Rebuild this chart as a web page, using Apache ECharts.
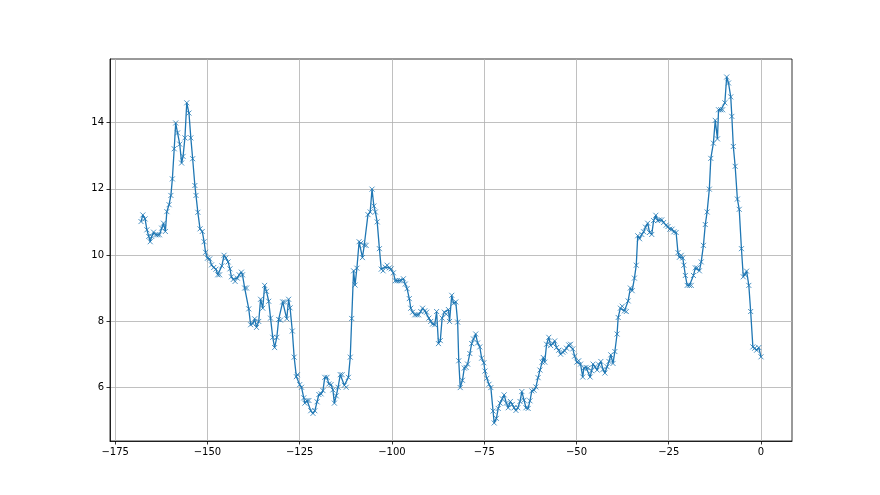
<!DOCTYPE html>
<html>
<head>
<meta charset="utf-8">
<script src="https://cdn.jsdelivr.net/npm/echarts@6/dist/echarts.min.js"></script>
<style>html,body{margin:0;padding:0;background:#fff}#c{width:880px;height:495px}</style>
</head>
<body>
<div id="c"></div>
<script>
const xValues = [
-168.0,-167.5,-166.9,-166.4,-165.9,-165.5,-165.1,-164.6,-164.0,-163.5,-163.0,-162.4,-161.9,-161.4,-161.0,-160.4,-159.9,-159.5,-159.0,-158.6,-158.1,-157.5,-157.0,-156.6,-156.1,-155.6,-155.0,-154.5,-154.0,-153.4,-153.1,-152.6,-152.0,-151.4,-150.9,-150.5,-150.0,-149.4,-148.9,-148.3,
-147.7,-147.2,-146.7,-146.1,-145.5,-145.0,-144.4,-143.9,-143.5,-143.0,-142.5,-141.9,-141.4,-140.8,-140.5,-139.9,-139.4,-138.8,-138.3,-137.7,-137.2,-136.7,-136.1,-135.6,-135.0,-134.5,-134.0,-133.4,-132.9,-132.3,-131.8,-131.2,-130.7,-130.2,-129.6,-129.1,-128.5,-128.0,
-127.6,-127.0,-126.5,-125.9,-125.6,-125.0,-124.5,-123.9,-123.6,-123.0,-122.5,-122.0,-121.4,-120.9,-120.3,-119.8,-119.2,-118.7,-118.2,-117.6,-117.1,-116.5,-116.0,-115.6,-115.1,-114.6,-114.0,-113.5,-112.9,-112.4,-111.8,-111.3,-110.9,-110.4,-110.0,-109.5,-108.9,-108.4,-108.0,-107.5,
-107.0,-106.5,-105.9,-105.4,-104.9,-104.5,-104.0,-103.4,-102.9,-102.4,-101.8,-101.3,-100.7,-100.2,-99.6,-99.1,-98.6,-98.0,-97.5,-96.9,-96.4,-95.9,-95.3,-94.9,-94.4,-93.8,-93.3,-92.8,-92.2,-91.7,-91.1,-90.6,-90.0,-89.5,-89.0,-88.4,-87.9,
-87.4,-86.9,-86.4,-85.8,-85.3,-84.7,-84.4,-83.8,-83.3,-82.7,-82.2,-81.9,-81.5,-80.9,-80.4,-79.9,-79.5,-78.9,-78.4,-77.9,-77.3,-76.8,-76.2,-75.7,-75.1,-74.8,-74.3,-73.7,-73.2,-72.6,-72.3,-71.7,-71.2,-70.7,-70.1,-69.6,-69.0,-68.5,-67.9,-67.4,
-66.9,-66.4,-65.9,-65.3,-64.8,-64.2,-63.7,-63.1,-62.6,-62.1,-61.5,-61.0,-60.4,-59.9,-59.3,-59.0,-58.6,-58.1,-57.5,-57.0,-56.4,-55.9,-55.4,-54.8,-54.3,-53.7,-53.2,-52.7,-52.1,-51.6,-51.0,-50.5,-49.9,-49.4,-48.9,-48.3,-48.0,-47.4,-46.9,-46.3,
-45.9,-45.5,-45.0,-44.4,-43.9,-43.4,-42.8,-42.3,-41.7,-41.2,-40.7,-40.1,-39.6,-39.0,-38.7,-38.1,-37.6,-37.0,-36.5,-36.0,-35.4,-34.9,-34.3,-33.8,-33.4,-32.9,-32.3,-31.8,-31.3,-30.7,-30.2,-29.6,-29.1,-28.5,-28.0,-27.5,-26.9,-26.4,
-25.7,-25.2,-24.7,-24.1,-23.6,-23.0,-22.5,-22.1,-21.6,-21.2,-20.9,-20.5,-20.0,-19.4,-18.9,-18.3,-17.8,-17.3,-16.7,-16.2,-15.6,-15.1,-14.6,-14.0,-13.6,-12.9,-12.4,-11.8,-11.5,-10.9,-10.4,-9.8,-9.3,-8.8,-8.2,-7.9,-7.5,-7.0,-6.4,-5.9,-5.3,-4.8,-4.3,-3.9,-3.3,-2.8,-2.2,-1.7,-1.2,-0.6,0
];
const yValues = [
11.01,11.21,11.09,10.76,10.56,10.40,10.56,10.69,10.61,10.61,10.61,10.81,10.96,10.71,11.31,11.52,11.80,12.30,13.21,13.99,13.69,13.35,12.78,12.98,13.54,14.60,14.29,13.54,12.91,12.10,11.80,11.29,10.79,10.71,10.40,10.08,9.90,9.88,9.70,9.62,
9.57,9.40,9.40,9.67,9.99,9.91,9.79,9.58,9.34,9.26,9.20,9.30,9.40,9.48,9.40,9.00,9.00,8.37,7.89,7.93,8.07,7.81,7.99,8.66,8.39,9.08,8.90,8.60,8.09,7.51,7.20,7.51,8.05,8.03,8.58,8.58,8.07,8.66,
8.40,7.70,6.91,6.32,6.38,6.08,6.00,5.68,5.52,5.60,5.60,5.29,5.21,5.29,5.56,5.78,5.80,5.90,6.30,6.30,6.10,6.08,5.92,5.52,5.74,6.00,6.38,6.38,6.06,6.00,6.30,6.91,8.08,9.52,9.09,9.60,10.40,10.36,9.92,10.30,
10.29,11.22,11.30,11.99,11.48,11.30,11.00,10.19,9.57,9.52,9.63,9.69,9.61,9.58,9.46,9.22,9.22,9.22,9.22,9.28,9.12,8.98,8.68,8.39,8.27,8.19,8.19,8.19,8.29,8.39,8.31,8.27,8.09,7.99,7.91,7.89,8.29,
7.32,7.41,8.09,8.27,8.21,8.35,7.99,8.78,8.54,8.58,7.97,6.80,5.99,6.21,6.58,6.60,6.70,7.02,7.32,7.46,7.61,7.34,7.22,6.88,6.74,6.49,6.27,6.09,5.99,5.28,4.92,5.06,5.36,5.52,5.65,5.77,5.52,5.38,5.57,5.48,
5.38,5.30,5.38,5.57,5.87,5.61,5.38,5.36,5.59,5.89,5.91,6.01,6.29,6.52,6.76,6.90,6.76,7.30,7.51,7.26,7.32,7.40,7.20,7.12,7.00,7.06,7.10,7.18,7.28,7.30,7.16,6.94,6.76,6.80,6.70,6.31,6.58,6.60,6.58,6.31,
6.50,6.70,6.62,6.52,6.68,6.78,6.54,6.43,6.62,6.78,6.98,6.72,7.08,7.61,8.11,8.39,8.45,8.31,8.29,8.61,9.00,8.92,9.30,9.69,10.58,10.49,10.62,10.70,10.84,10.96,10.68,10.62,11.04,11.20,11.04,11.06,11.06,10.98,
10.90,10.86,10.78,10.78,10.70,10.68,10.07,9.93,9.99,9.91,9.69,9.38,9.08,9.08,9.08,9.38,9.61,9.61,9.52,9.79,10.29,10.92,11.30,11.99,12.92,13.38,14.07,13.51,14.39,14.39,14.39,14.60,15.38,15.20,14.78,14.19,13.28,12.68,11.69,11.38,10.19,9.34,9.40,9.51,9.08,8.29,7.22,7.18,7.12,7.20,6.92
];
const xTicks = [-175, -150, -125, -100, -75, -50, -25, 0];
const yTicks = [6, 8, 10, 12, 14];

const data = xValues.map((x, i) => [x, yValues[i]]);
const minus = v => String(v).replace('-', '\u2212');
const font = { fontFamily: 'DejaVu Sans', fontSize: 10, color: '#000' };

const chart = echarts.init(document.getElementById('c'), null, { renderer: 'canvas' });
chart.setOption({
  animation: false,
  backgroundColor: '#fff',
  grid: { left: 110, right: 88, top: 59, bottom: 54, show: true, borderColor: '#000', borderWidth: 0.8, backgroundColor: 'transparent' },
  xAxis: {
    type: 'value', min: -176.4, max: 8.4,
    axisLine: { show: true, onZero: false, lineStyle: { color: '#000', width: 0.8 } },
    axisTick: { show: true, inside: false, length: 3.5, lineStyle: { color: '#000', width: 0.8 }, customValues: xTicks },
    axisLabel: Object.assign({ margin: 6, formatter: minus, customValues: xTicks }, font),
    splitLine: { show: true, lineStyle: { color: '#b0b0b0', width: 0.8 } }
  },
  yAxis: {
    type: 'value', min: 4.375, max: 15.925,
    axisLine: { show: true, onZero: false, lineStyle: { color: '#000', width: 0.8 } },
    axisTick: { show: true, inside: false, length: 3.5, lineStyle: { color: '#000', width: 0.8 }, customValues: yTicks },
    axisLabel: Object.assign({ margin: 6, formatter: minus, customValues: yTicks }, font),
    splitLine: { show: true, lineStyle: { color: '#b0b0b0', width: 0.8 } }
  },
  series: [{
    type: 'line',
    data: data,
    showAllSymbol: true,
    symbol: 'path://M0 0L10 10M10 0L0 10',
    symbolSize: 5,
    itemStyle: { color: '#1f77b4', borderColor: '#1f77b4', borderWidth: 0.8 },
    lineStyle: { color: '#1f77b4', width: 1.3 },
    emphasis: { disabled: true }
  }]
});
</script>
</body>
</html>
